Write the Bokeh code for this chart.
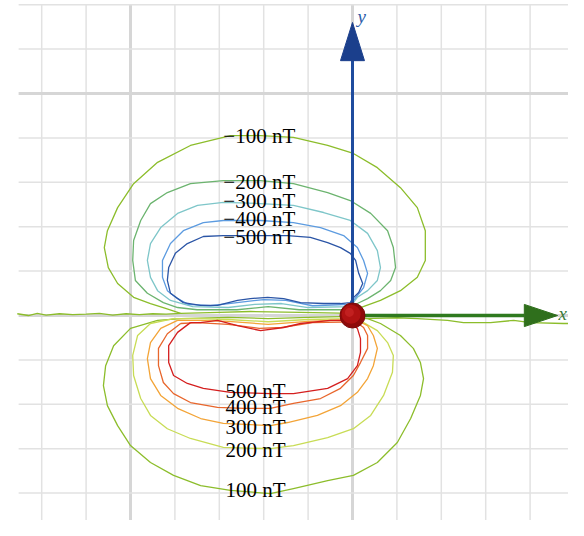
from bokeh.plotting import figure
from bokeh.models import Range1d
from bokeh.embed import file_html
from bokeh.resources import INLINE
from bokeh.core.properties import value

# ---------------- data (grid units, origin at the sphere) ----------------
GRID_X = list(range(-7, 6))
GRID_Y = list(range(-5, 8))
MAJOR = (-5, 0, 5)

N100 = [(-3.87,0.05),(-4.21,0.16),(-4.55,0.27),(-4.93,0.41),(-5.29,0.72),(-5.50,1.08),(-5.59,1.53),
        (-5.52,1.91),(-5.29,2.43),(-4.93,2.97),(-4.39,3.45),(-3.65,3.83),(-2.75,4.05),(-2.07,4.05),
        (-1.33,4.01),(-0.56,3.83),(0.02,3.65),(0.56,3.33),(1.08,2.88),(1.46,2.43),(1.64,1.91),
        (1.64,1.24),(1.46,0.86),(1.08,0.56),(0.63,0.34),(0.18,0.18),(0.00,0.05),(-1.17,0.07),
        (-2.30,0.09),(-3.00,0.07),(-3.87,0.05)]
N200 = [(-3.94,0.18),(-4.26,0.29),(-4.62,0.50),(-4.89,0.79),(-4.95,1.24),(-4.93,1.69),(-4.77,2.14),
        (-4.55,2.52),(-4.17,2.77),(-3.65,2.97),(-2.91,3.04),(-2.07,3.04),(-1.33,2.97),(-0.56,2.77),
        (-0.05,2.59),(0.41,2.30),(0.79,1.91),(0.92,1.53),(0.97,1.08),(0.86,0.79),(0.63,0.56),
        (0.34,0.38),(0.11,0.27),(-0.05,0.13),(-1.20,0.13),(-1.90,0.20),(-2.60,0.13),(-3.50,0.13),
        (-3.94,0.18)]
N300 = [(-4.10,0.34),(-4.39,0.56),(-4.55,0.86),(-4.62,1.24),(-4.55,1.62),(-4.32,1.98),(-3.94,2.30),
        (-3.49,2.48),(-2.91,2.55),(-2.07,2.52),(-1.33,2.48),(-0.65,2.32),(-0.05,2.14),(0.34,1.85),
        (0.56,1.46),(0.63,1.08),(0.56,0.79),(0.34,0.56),(0.11,0.41),(-0.05,0.20),(-1.00,0.18),
        (-1.60,0.27),(-2.20,0.25),(-2.80,0.18),(-3.60,0.20),(-4.10,0.34)]
N400 = [(-3.94,0.38),(-4.17,0.56),(-4.28,0.86),(-4.28,1.24),(-4.10,1.62),(-3.81,1.91),(-3.36,2.09),
        (-2.91,2.14),(-2.07,2.14),(-1.33,2.09),(-0.72,1.98),(-0.20,1.80),(0.11,1.53),(0.25,1.24),
        (0.34,0.95),(0.25,0.63),(0.11,0.45),(-0.05,0.25),(-0.90,0.22),(-1.50,0.34),(-2.00,0.36),
        (-2.60,0.29),(-3.20,0.22),(-3.70,0.25),(-3.94,0.38)]
N500 = [(-3.81,0.29),(-4.10,0.50),(-4.17,0.79),(-4.14,1.08),(-3.99,1.40),(-3.72,1.62),(-3.36,1.78),
        (-2.91,1.80),(-2.07,1.80),(-1.46,1.80),(-0.95,1.76),(-0.56,1.64),(-0.27,1.53),(-0.05,1.40),
        (0.07,1.24),(0.14,0.95),(0.23,0.72),(0.14,0.52),(0.00,0.38),(-0.05,0.29),(-0.27,0.27),
        (-0.65,0.27),(-1.17,0.29),(-1.55,0.38),(-1.91,0.41),(-2.30,0.38),(-2.59,0.34),(-3.04,0.23),
        (-3.42,0.23),(-3.81,0.29)]

P100 = [(-3.87,-0.07),(-4.39,-0.11),(-5.00,-0.29),(-5.38,-0.68),(-5.56,-1.13),(-5.61,-1.58),
        (-5.52,-2.03),(-5.29,-2.48),(-5.00,-2.93),(-4.55,-3.31),(-4.03,-3.60),(-3.42,-3.83),
        (-2.75,-3.94),(-1.85,-4.01),(-1.33,-3.90),(-0.56,-3.72),(0.02,-3.60),(0.56,-3.31),
        (1.01,-2.86),(1.31,-2.32),(1.53,-1.80),(1.60,-1.42),(1.53,-1.06),(1.37,-0.74),(1.08,-0.45),
        (0.63,-0.18),(0.34,-0.07),(0.00,-0.02),(-1.00,-0.04),(-1.90,-0.07),(-2.80,-0.04),(-3.87,-0.07)]
P200 = [(-4.03,-0.07),(-4.55,-0.18),(-4.84,-0.45),(-4.95,-0.90),(-4.93,-1.35),(-4.77,-1.87),
        (-4.55,-2.25),(-4.17,-2.55),(-3.65,-2.77),(-2.91,-2.97),(-1.85,-3.00),(-1.33,-2.93),
        (-0.56,-2.75),(0.02,-2.55),(0.41,-2.25),(0.70,-1.80),(0.90,-1.28),(0.92,-0.90),(0.79,-0.61),
        (0.56,-0.34),(0.25,-0.16),(0.00,-0.07),(-1.00,-0.09),(-1.90,-0.14),(-2.80,-0.09),(-3.50,-0.07),
        (-4.03,-0.07)]
P300 = [(-3.94,-0.11),(-4.32,-0.29),(-4.55,-0.61),(-4.62,-0.97),(-4.55,-1.42),(-4.32,-1.80),
        (-3.94,-2.09),(-3.42,-2.32),(-2.91,-2.43),(-1.85,-2.48),(-1.46,-2.41),(-0.79,-2.25),
        (-0.27,-2.03),(0.11,-1.73),(0.34,-1.42),(0.47,-1.13),(0.56,-0.74),(0.47,-0.45),(0.34,-0.23),
        (0.07,-0.09),(-1.00,-0.13),(-1.90,-0.20),(-2.80,-0.13),(-3.50,-0.11),(-3.94,-0.11)]
P400 = [(-3.87,-0.18),(-4.17,-0.41),(-4.37,-0.74),(-4.37,-1.13),(-4.26,-1.51),(-4.03,-1.76),
        (-3.65,-1.96),(-3.04,-2.07),(-2.45,-2.09),(-1.85,-2.09),(-1.33,-1.98),(-0.72,-1.87),
        (-0.27,-1.64),(0.02,-1.35),(0.18,-1.06),(0.34,-0.74),(0.34,-0.45),(0.25,-0.27),(0.07,-0.14),
        (-0.90,-0.16),(-1.60,-0.27),(-2.10,-0.29),(-2.80,-0.20),(-3.50,-0.16),(-3.87,-0.18)]
P500 = [(-3.65,-0.16),(-3.94,-0.38),(-4.14,-0.68),(-4.14,-1.06),(-4.03,-1.35),(-3.72,-1.53),
        (-3.36,-1.64),(-2.75,-1.73),(-1.85,-1.76),(-1.33,-1.76),(-0.56,-1.64),(-0.11,-1.42),
        (0.11,-1.13),(0.18,-0.83),(0.18,-0.52),(0.11,-0.29),(-0.05,-0.16),(-0.20,-0.11),(-0.50,-0.11),
        (-1.17,-0.18),(-1.55,-0.27),(-2.07,-0.34),(-2.59,-0.23),(-3.04,-0.11),(-3.42,-0.16),(-3.65,-0.16)]

ZERO_LEFT = [(-7.55,0.04),(-7.30,0.00),(-7.10,0.05),(-6.90,0.01),(-6.60,0.04),(-6.30,0.02),(-6.00,0.03),
             (-5.70,0.05),(-5.40,0.01),(-5.10,0.04),(-4.80,0.02),(-4.50,0.04),(-4.20,0.03),(-3.87,0.05)]
ZERO_RIGHT = [(0.25,-0.07),(1.01,-0.05),(1.46,-0.07),(2.14,-0.11),(2.50,-0.16),(3.11,-0.16),(3.63,-0.11),
              (4.01,-0.16),(4.75,-0.18),(5.10,-0.18)]

CONTOURS = [N100, N200, N300, N400, N500, P100, P200, P300, P400, P500]
COLORS = ["#8CBD2B", "#6CB46F", "#7EC6C9", "#5C9BE0", "#2B55A6",
          "#8CBD2B", "#C8DC55", "#F3A437", "#E8662C", "#D41E1E"]

LABEL_TEXT = ["−100 nT", "−200 nT", "−300 nT", "−400 nT", "−500 nT",
              "500 nT", "400 nT", "300 nT", "200 nT", "100 nT"]
LABEL_X = [-2.91, -2.91, -2.91, -2.91, -2.91, -2.86, -2.86, -2.86, -2.86, -2.86]
LABEL_Y = [4.05, 3.00, 2.59, 2.18, 1.76, -1.69, -2.07, -2.52, -3.04, -3.94]

Y_SHAFT_TOP, Y_TIP, Y_HEAD_HALF = 5.74, 6.60, 0.27
X_SHAFT_END, X_TIP, X_HEAD_HALF = 3.87, 4.62, 0.25

# ---------------- figure ----------------
p = figure(width=568, height=520, x_range=Range1d(-7.928, 4.865), y_range=Range1d(-4.617, 7.095),
           x_axis_type=None, y_axis_type=None, toolbar_location=None, output_backend="svg",
           min_border=0, outline_line_color=None, background_fill_color="white")
p.grid.visible = False

# grid
for gx in GRID_X:
    major = gx in MAJOR
    p.segment(x0=[gx], y0=[GRID_Y[0]], x1=[gx], y1=[GRID_Y[-1]],
              line_color="#D6D6D6" if major else "#E2E2E2", line_width=3 if major else 1.5)
for gy in GRID_Y:
    major = gy in MAJOR
    p.segment(x0=[-7.52], y0=[gy], x1=[GRID_X[-1]], y1=[gy],
              line_color="#D6D6D6" if major else "#E2E2E2", line_width=3 if major else 1.5)

# zero-field traces
for tr in (ZERO_LEFT, ZERO_RIGHT):
    p.line([a for a, b in tr], [b for a, b in tr], line_color="#8CBD2B", line_width=1.3)

# contours
for pts, col in zip(CONTOURS, COLORS):
    p.line([a for a, b in pts], [b for a, b in pts], line_color=col, line_width=1.3, line_join="round")

# y axis arrow
p.segment(x0=[0], y0=[0], x1=[0], y1=[Y_SHAFT_TOP], line_color="#1F4C9E", line_width=3)
p.patch([-Y_HEAD_HALF, 0, Y_HEAD_HALF], [Y_SHAFT_TOP, Y_TIP, Y_SHAFT_TOP],
        fill_color="#1B3F8C", line_color="#1B3F8C")
# x axis arrow
p.segment(x0=[0], y0=[0], x1=[X_SHAFT_END], y1=[0], line_color="#2F7A1F", line_width=3.5)
p.patch([X_SHAFT_END, X_TIP, X_SHAFT_END], [X_HEAD_HALF, 0, -X_HEAD_HALF],
        fill_color="#2F6F1C", line_color="#2F6F1C")

# sphere
p.scatter(x=[0], y=[0], size=25, marker="circle", fill_color="#8E0A0A", line_color="#7A0808")
p.scatter(x=[-0.03], y=[0.03], size=19, marker="circle", fill_color="#B01212", line_color=None)
p.scatter(x=[-0.07], y=[0.07], size=9, marker="circle", fill_color="#C22020", line_color=None)

# axis letters
p.text(x=[0.11], y=[6.73], text=["y"], text_font=value("Liberation Serif"), text_font_style="italic",
       text_font_size="19px", text_color="#2B5BA8", text_align="left", text_baseline="middle")
p.text(x=[4.64], y=[0.05], text=["x"], text_font=value("Liberation Serif"), text_font_style="italic",
       text_font_size="19px", text_color="#3C7A3A", text_align="left", text_baseline="middle")

# contour labels
p.text(x=LABEL_X, y=LABEL_Y, text=LABEL_TEXT, text_font=value("Liberation Serif"),
       text_font_size="21px", text_color="black", text_align="left", text_baseline="middle")

open("out.html", "w").write(file_html(p, INLINE))
